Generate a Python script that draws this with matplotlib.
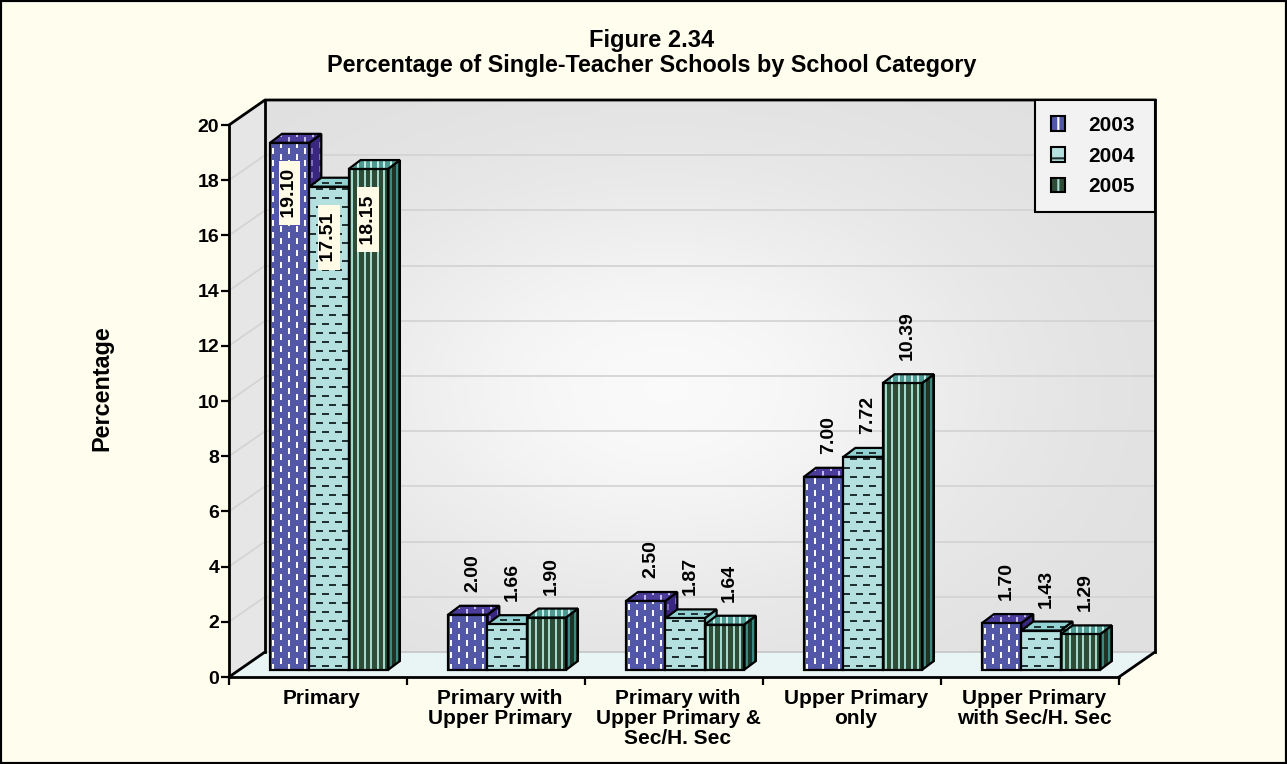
import numpy as np
import matplotlib
matplotlib.use("Agg")
import matplotlib.pyplot as plt
from matplotlib.patches import Polygon, Patch, Rectangle
from matplotlib.collections import LineCollection
from matplotlib.colors import LinearSegmentedColormap
from matplotlib.legend_handler import HandlerTuple

plt.rcParams["font.family"] = ["Liberation Sans", "DejaVu Sans"]
plt.rcParams["font.weight"] = "bold"
plt.rcParams["hatch.linewidth"] = 1.5

CATEGORIES = [
    "Primary",
    "Primary with\nUpper Primary",
    "Primary with\nUpper Primary &\nSec/H. Sec",
    "Upper Primary\nonly",
    "Upper Primary\nwith Sec/H. Sec",
]
YEARS = ["2003", "2004", "2005"]
VALUES_2003 = [19.10, 2.00, 2.50, 7.00, 1.70]
VALUES_2004 = [17.51, 1.66, 1.87, 7.72, 1.43]
VALUES_2005 = [18.15, 1.90, 1.64, 10.39, 1.29]
Y_TICKS = list(range(0, 21, 2))

# face colours: front, top, side, and texture colours for each
STYLES = [
    dict(front="#5257A8", top="#4B3C9C", side="#3A2880",
         tex=("#FFFFFF", "#C8C0F0", "#8070C0"), kind="vdash"),
    dict(front="#B4E1E0", top="#92D2D2", side="#7FC3C3",
         tex=("#1E2E2E", "#1E2E2E", "#1E2E2E"), kind="hdash"),
    dict(front="#2F4C37", top="#4E9A93", side="#1E3426",
         tex=("#A6DCD2", "#C8F0EA", "#3A8C86"), kind="vline"),
]

W, H = 1287, 764
BG = "#FFFDED"
fig = plt.figure(figsize=(W / 100, H / 100), dpi=100, facecolor=BG)

# front plane of the plot, in pixels
X0, X1 = 229, 1119
Y0, Y1 = 677, 125
ax = fig.add_axes([X0 / W, 1 - Y0 / H, (X1 - X0) / W, (Y0 - Y1) / H])
ax.patch.set_visible(False)

n_cat = len(CATEGORIES)
px_x = n_cat / (X1 - X0)
px_y = 20 / (Y0 - Y1)
DX, DY = 36 * px_x, 25 * px_y      # floor depth
FX, FY = 10 * px_x, 7 * px_y       # bar inset from front edge
BDX, BDY = 12 * px_x, 9 * px_y     # bar depth
GAP = 41 * px_x
BW = 39.3 * px_x


def texture(poly, kind, color, z):
    xy = poly.get_xy()
    xmin, xmax = xy[:, 0].min(), xy[:, 0].max()
    ymin, ymax = xy[:, 1].min(), xy[:, 1].max()
    segs = []
    if kind == "vdash":
        sx, sy, ln = 8 * px_x, 12 * px_y, 6 * px_y
        x, col = xmin + 3 * px_x, 0
        while x < xmax:
            y = ymin - sy + (col % 2) * sy / 2
            while y < ymax:
                segs.append([(x, y), (x, y + ln)])
                y += sy
            x += sx
            col += 1
    elif kind == "hdash":
        sx, sy, ln = 13 * px_x, 9 * px_y, 7 * px_x
        y, row = ymin + 4 * px_y, 0
        while y < ymax:
            x = xmin - sx + (row % 2) * sx / 2
            while x < xmax:
                segs.append([(x, y), (x + ln, y)])
                x += sx
            y += sy
            row += 1
    else:
        x = xmin + 3 * px_x
        while x < xmax:
            segs.append([(x, ymin), (x, ymax)])
            x += 6.5 * px_x
    lc = LineCollection(segs, colors=color, linewidths=1.4, zorder=z)
    ax.add_collection(lc)
    lc.set_clip_path(poly)


# walls and floor
wall_cmap = LinearSegmentedColormap.from_list("wall", ["#E0E0E0", "#FAFAFA"])
gx, gy = np.meshgrid(np.linspace(-1, 1, 200), np.linspace(-1, 1, 120))
glow = np.exp(-((gx + 0.1) ** 2 / 0.55 + (gy + 0.05) ** 2 / 0.6))
img = ax.imshow(glow, extent=(DX, n_cat + DX, DY, 20 + DY), origin="lower",
                cmap=wall_cmap, aspect="auto", zorder=0, clip_on=False)
back = Polygon([(DX, DY), (n_cat + DX, DY), (n_cat + DX, 20 + DY), (DX, 20 + DY)],
               closed=True, fill=False, lw=0, clip_on=False)
ax.add_patch(back)
img.set_clip_path(back)

ax.add_patch(Polygon([(0, 0), (DX, DY), (DX, 20 + DY), (0, 20)], closed=True,
                     fc="#E6E6E6", ec="none", zorder=0.5, clip_on=False))
ax.add_patch(Polygon([(0, 0), (n_cat, 0), (n_cat + DX, DY), (DX, DY)], closed=True,
                     fc="#E9F5F5", ec="none", zorder=0.5, clip_on=False))

for v in Y_TICKS[1:-1]:
    ax.plot([DX, n_cat + DX], [v + DY, v + DY], color="#D4D4D4", lw=1.3, zorder=0.8, clip_on=False)
    ax.plot([0, DX], [v, v + DY], color="#D4D4D4", lw=1.3, zorder=0.8, clip_on=False)
ax.plot([DX, n_cat + DX], [DY, DY], color="#C8C8C8", lw=1.3, zorder=0.8, clip_on=False)

edge_kw = dict(color="black", lw=2, zorder=0.9, clip_on=False, solid_capstyle="projecting")
ax.plot([0, DX, n_cat + DX], [20, 20 + DY, 20 + DY], **edge_kw)
ax.plot([DX, DX], [DY, 20 + DY], **edge_kw)
ax.plot([n_cat + DX, n_cat + DX], [DY, 20 + DY], **edge_kw)
ax.plot([0, DX], [0, DY], **edge_kw)
ax.plot([n_cat, n_cat + DX], [0, DY], **edge_kw)

# bars
series = [VALUES_2003, VALUES_2004, VALUES_2005]
z = 2.0
for i in range(n_cat):
    for j, vals in enumerate(series):
        st = STYLES[j]
        h = vals[i]
        x = i + GAP + j * BW
        y = FY
        faces = [
            ([(x + BW, y), (x + BW + BDX, y + BDY), (x + BW + BDX, y + h + BDY), (x + BW, y + h)],
             st["side"], st["tex"][2]),
            ([(x, y + h), (x + BW, y + h), (x + BW + BDX, y + h + BDY), (x + BDX, y + h + BDY)],
             st["top"], st["tex"][1]),
            ([(x, y), (x + BW, y), (x + BW, y + h), (x, y + h)],
             st["front"], st["tex"][0]),
        ]
        for verts, fc, tc in faces:
            p = Polygon(verts, closed=True, fc=fc, ec="none", zorder=z, clip_on=False)
            ax.add_patch(p)
            texture(p, st["kind"], tc, z + 0.1)
            ax.add_patch(Polygon(verts, closed=True, fill=False, ec="black", lw=1.6,
                                 joinstyle="miter", zorder=z + 0.2, clip_on=False))
            z += 0.3

# value labels
for i in range(n_cat):
    for j, vals in enumerate(series):
        h = vals[i]
        x = i + GAP + j * BW
        if i == 0:
            ax.text(x + BW / 2, FY + h - 0.75, f" {h:.2f} ", rotation=90, ha="center", va="top",
                    fontsize=14, zorder=30,
                    bbox=dict(boxstyle="square,pad=0.12", fc="#FFFBE6", ec="none"))
        else:
            ax.text(x + BW / 2 + 5 * px_x, FY + h + 23 * px_y, f"{h:.2f}", rotation=90,
                    ha="center", va="bottom", fontsize=14, zorder=30)

# axes
ax.set_xlim(0, n_cat)
ax.set_ylim(0, 20)
for side in ["top", "right"]:
    ax.spines[side].set_visible(False)
for side in ["left", "bottom"]:
    ax.spines[side].set_linewidth(2)
    ax.spines[side].set_zorder(1)
ax.set_yticks(Y_TICKS)
ax.tick_params(axis="y", direction="out", length=6, width=1.6, labelsize=14, pad=1)
ax.set_xticks(range(n_cat + 1))
ax.set_xticklabels([])
ax.tick_params(axis="x", which="major", direction="out", length=6, width=1.6)
ax.set_xticks([i + 0.5 + 4 * px_x for i in range(n_cat)], minor=True)
ax.set_xticklabels(CATEGORIES, minor=True, fontsize=15, linespacing=1.05)
ax.tick_params(axis="x", which="minor", length=0, pad=9)

# legend
tex_legend = [("#FFFFFF", "|"), ("#1E2E2E", "-"), ("#A6DCD2", "|")]
handles = []
for st, (hc, hatch) in zip(STYLES, tex_legend):
    handles.append((Patch(fc=st["front"], hatch=hatch, ec=hc, lw=0),
                    Patch(fill=False, ec="black", lw=1.5)))
leg = ax.legend(handles, YEARS, handler_map={tuple: HandlerTuple(ndivide=1)},
                loc="upper left", bbox_to_anchor=(1035 / W, 1 - 213 / H, 120 / W, 113 / H),
                bbox_transform=fig.transFigure, mode="expand", borderaxespad=0,
                fancybox=False, edgecolor="black", facecolor="#F2F2F2", framealpha=1,
                fontsize=15, handlelength=0.7, handleheight=0.7, handletextpad=1.1,
                labelspacing=0.57, borderpad=0.75)
leg.get_frame().set_linewidth(1.5)
leg.set_zorder(40)

# titles
fig.text(652 / W, 1 - 47 / H, "Figure 2.34", ha="center", va="baseline", fontsize=17)
fig.text(652 / W, 1 - 72 / H, "Percentage of Single-Teacher Schools by School Category",
         ha="center", va="baseline", fontsize=16.8)
fig.text(102 / W, 1 - 388 / H, "Percentage", rotation=90, ha="center", va="center", fontsize=16.8)

fig.patches.append(Rectangle((0, 0), 1, 1, transform=fig.transFigure, fill=False,
                             ec="black", lw=3))

fig.savefig("out.png", dpi=100, facecolor=BG)
